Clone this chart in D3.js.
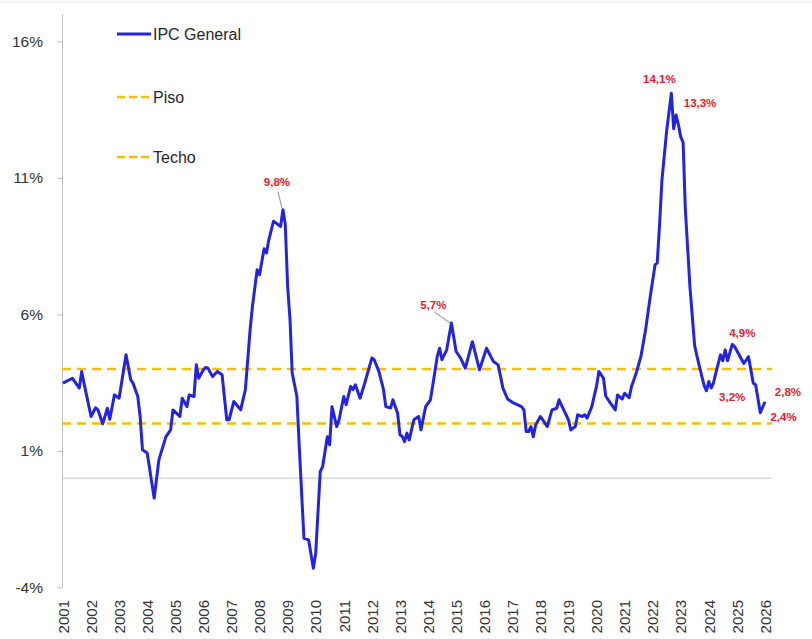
<!DOCTYPE html>
<html>
<head>
<meta charset="utf-8">
<script src="https://cdn.jsdelivr.net/npm/d3@7"></script>
<style>
  body { margin: 0; background: #fff; }
  svg { display: block; font-family: "Liberation Sans", Arial, sans-serif; }
</style>
</head>
<body>
<svg id="chart" width="812" height="639"></svg>
<script>
// IPC General, var. % 12 meses
var meses = ['2001-01','2001-05','2001-08','2001-09','2001-10','2002-01','2002-03','2002-04','2002-06','2002-08',
  '2002-09','2002-11','2003-01','2003-04','2003-06','2003-07','2003-09','2003-10','2003-11','2004-01',
  '2004-04','2004-06','2004-09','2004-11','2004-12','2005-03','2005-04','2005-06','2005-07','2005-09',
  '2005-10','2005-11','2006-01','2006-02','2006-03','2006-05','2006-07','2006-09','2006-11','2006-12',
  '2007-02','2007-05','2007-07','2007-09','2007-10','2007-12','2008-01','2008-03','2008-04','2008-05',
  '2008-07','2008-08','2008-10','2008-11','2008-12','2009-01','2009-02','2009-03','2009-05','2009-06',
  '2009-08','2009-10','2009-12','2010-01','2010-03','2010-04','2010-06','2010-07','2010-08','2010-10',
  '2010-11','2011-01','2011-02','2011-04','2011-05','2011-06','2011-08','2011-10','2012-01','2012-02',
  '2012-04','2012-06','2012-07','2012-09','2012-10','2012-12','2013-01','2013-02','2013-03','2013-04',
  '2013-05','2013-07','2013-09','2013-10','2013-12','2014-02','2014-03','2014-05','2014-06','2014-07',
  '2014-09','2014-11','2015-01','2015-03','2015-05','2015-08','2015-11','2016-02','2016-05','2016-07',
  '2016-09','2016-11','2017-01','2017-05','2017-06','2017-07','2017-08','2017-09','2017-10','2017-11',
  '2018-01','2018-02','2018-04','2018-06','2018-08','2018-09','2018-11','2019-01','2019-02','2019-04',
  '2019-05','2019-07','2019-08','2019-09','2019-11','2020-01','2020-02','2020-04','2020-05','2020-07',
  '2020-09','2020-10','2020-12','2021-01','2021-03','2021-04','2021-06','2021-08','2021-10','2021-12',
  '2022-02','2022-03','2022-04','2022-05','2022-07','2022-09','2022-10','2022-11','2022-12','2023-01',
  '2023-02','2023-03','2023-05','2023-07','2023-08','2023-09','2023-11','2023-12','2024-01','2024-02',
  '2024-03','2024-04','2024-06','2024-07','2024-08','2024-09','2024-11','2024-12','2025-02','2025-04',
  '2025-06','2025-08','2025-09','2025-11','2026-01','2026-03','2026-04']

var ipc = [3.48,3.66,3.30,3.91,3.48,2.26,2.58,2.50,1.99,2.56,
  2.16,3.05,2.93,4.52,3.60,3.48,2.99,2.26,1.04,0.92,
  -0.73,0.67,1.52,1.77,2.50,2.26,2.93,2.62,3.05,2.99,
  4.15,3.66,3.97,4.06,4.03,3.72,3.91,3.79,2.14,2.14,
  2.81,2.50,3.24,5.44,6.29,7.63,7.45,8.40,8.25,8.73,
  9.41,9.35,9.22,9.83,9.30,7.02,5.80,3.85,2.99,1.16,
  -2.20,-2.26,-3.30,-2.75,0.24,0.42,1.52,1.22,2.62,1.89,
  2.14,2.99,2.69,3.36,3.24,3.42,2.93,3.48,4.40,4.34,
  3.91,3.24,2.62,2.57,2.87,2.38,1.59,1.52,1.34,1.65,
  1.40,2.14,2.26,1.77,2.62,2.87,3.36,4.46,4.76,4.34,
  4.70,5.68,4.64,4.40,4.03,5.00,3.97,4.76,4.27,4.15,
  3.30,2.90,2.78,2.62,2.50,1.71,1.71,1.89,1.52,1.95,
  2.26,2.14,1.89,2.50,2.56,2.87,2.50,2.14,1.77,1.89,
  2.32,2.26,2.32,2.20,2.62,3.36,3.91,3.66,3.00,2.75,
  2.50,3.05,2.90,3.11,2.95,3.36,3.85,4.46,5.44,6.66,
  7.82,7.88,9.30,10.90,12.70,14.10,12.80,13.30,12.95,12.50,
  12.30,9.90,7.00,4.85,4.46,4.09,3.40,3.20,3.54,3.30,
  3.48,3.85,4.52,4.30,4.70,4.30,4.90,4.82,4.50,4.20,
  4.45,3.48,3.42,2.40,2.80]

var piso = 2, techo = 4
var anios = d3.range(2001, 2027).map(String)
var yTicks = [-4, 1, 6, 11, 16]
var leyenda = ['IPC General', 'Piso', 'Techo']

var etiquetas = ['14,1%', '13,3%', '9,8%', '5,7%', '4,9%', '3,2%', '2,8%', '2,4%']
var etiquetaMes = ['2022-09', '2022-11', '2008-11', '2014-11', '2025-02', '2024-02', '2026-04', '2026-03']
var etiquetaValor = [14.1, 13.3, 9.83, 5.68, 4.9, 3.2, 2.8, 2.4]

var parseMes = d3.timeParse('%Y-%m')
var serie = meses.map((m, i) => ({ fecha: parseMes(m), valor: ipc[i] }))

var blue = '#2424e0', gold = '#f5c000', red = '#e8202a', grey = '#bfbfbf'

var svg = d3.select('#chart')

var x = d3.scaleTime()
  .domain([parseMes('2001-01'), parseMes('2026-01')])
  .range([63, 765])
var y = d3.scaleLinear().domain([-4, 17]).range([587.4, 14])

// borde superior tenue
svg.append('line').attr('x1', 0).attr('x2', 812).attr('y1', 2).attr('y2', 2)
  .attr('stroke', '#e6e6e6')

// eje y
var yAxis = d3.axisLeft(y)
  .tickValues(yTicks)
  .tickSize(5)
  .tickSizeOuter(0)
  .tickPadding(14)
  .tickFormat(d => d + '%')
var yG = svg.append('g').attr('transform', 'translate(62,0)').call(yAxis)
yG.select('.domain').attr('stroke', grey)
yG.selectAll('.tick line').attr('stroke', grey)
yG.selectAll('.tick text').attr('fill', '#333')
  .style('font-size', '15.5px').style('font-family', '"Liberation Sans", Arial, sans-serif')

// eje x (años)
var xAxis = d3.axisBottom(x)
  .tickValues(anios.map(a => parseMes(a + '-01')))
  .tickSize(0)
  .tickFormat(d3.timeFormat('%Y'))
var xG = svg.append('g').attr('transform', 'translate(0,592)').call(xAxis)
xG.select('.domain').remove()
xG.selectAll('.tick text')
  .attr('transform', 'rotate(-90)')
  .attr('x', -8).attr('y', 0).attr('dy', '.35em')
  .style('text-anchor', 'end')
  .attr('fill', '#333')
  .style('font-size', '15px').style('font-family', '"Liberation Sans", Arial, sans-serif')

// línea del cero
svg.append('line')
  .attr('x1', 62).attr('x2', 772)
  .attr('y1', y(0)).attr('y2', y(0))
  .attr('stroke', '#c8c8c8').attr('stroke-width', 1)

// piso y techo
;[piso, techo].forEach(v => {
  svg.append('line')
    .attr('x1', 62).attr('x2', 772)
    .attr('y1', y(v)).attr('y2', y(v))
    .attr('stroke', gold).attr('stroke-width', 2.5)
    .attr('stroke-dasharray', '9,6')
})

// serie IPC
var line = d3.line().x(d => x(d.fecha)).y(d => y(d.valor))
svg.append('path')
  .datum(serie)
  .attr('d', line)
  .attr('fill', 'none')
  .attr('stroke', blue)
  .attr('stroke-width', 3)
  .attr('stroke-linejoin', 'round')

// etiquetas de datos
var offsets = [[-12, -10], [24, -8], [-6, -24], [-18, -14], [3, -7], [21, 10], [16, -6], [14, 8]]
var conGuia = { '9,8%': [[-5, -18], [-1, -2]], '5,7%': [[-17, -11], [-1, 0]] }
etiquetas.forEach((t, i) => {
  var px = x(parseMes(etiquetaMes[i])), py = y(etiquetaValor[i])
  if (conGuia[t]) {
    var g = conGuia[t]
    svg.append('line')
      .attr('x1', px + g[0][0]).attr('y1', py + g[0][1])
      .attr('x2', px + g[1][0]).attr('y2', py + g[1][1])
      .attr('stroke', '#8c8c8c').attr('stroke-width', 1)
  }
  svg.append('text')
    .attr('x', px + offsets[i][0]).attr('y', py + offsets[i][1])
    .attr('text-anchor', 'middle')
    .attr('fill', red)
    .style('font-size', '11.5px').style('font-weight', 'bold')
    .text(t)
})

// leyenda
var legY = [34, 97, 157]
leyenda.forEach((t, i) => {
  var l = svg.append('line')
    .attr('x1', 117).attr('x2', 151)
    .attr('y1', legY[i]).attr('y2', legY[i])
  if (i === 0) l.attr('stroke', blue).attr('stroke-width', 3)
  else l.attr('stroke', gold).attr('stroke-width', 2.5).attr('stroke-dasharray', '8,4')
  svg.append('text')
    .attr('x', 153).attr('y', legY[i]).attr('dy', '.36em')
    .attr('fill', '#262626')
    .style('font-size', '16px')
    .text(t)
})
</script>
</body>
</html>
